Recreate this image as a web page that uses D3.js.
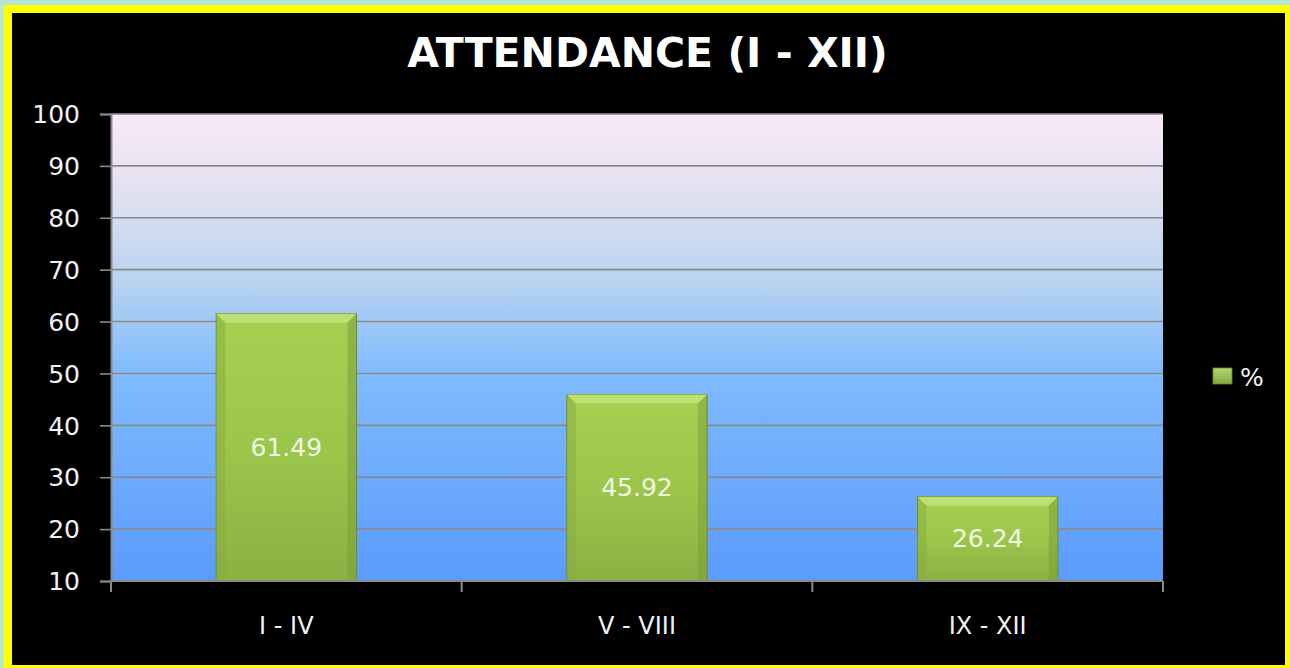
<!DOCTYPE html>
<html>
<head>
<meta charset="utf-8">
<script src="https://cdn.jsdelivr.net/npm/d3@7"></script>
<style>
html,body{margin:0;padding:0;background:#b4e4da;overflow:hidden;}
svg{display:block;}
text{font-family:"DejaVu Sans",Verdana,sans-serif;}
</style>
</head>
<body>
<svg id="chart" width="1290" height="668"></svg>
<script>
const categories = ["I - IV", "V - VIII", "IX - XII"];
const values = [61.49, 45.92, 26.24];
const yTicks = [10, 20, 30, 40, 50, 60, 70, 80, 90, 100];
const seriesName = "%";
const title = "ATTENDANCE (I - XII)";

(function(){
const svg = d3.select("#chart");
const defs = svg.append("defs");

// frame
svg.append("rect").attr("x",0).attr("y",0).attr("width",1290).attr("height",668).attr("fill","#b4e4da");
svg.append("rect").attr("x",3.5).attr("y",5).attr("width",1290-3.5).attr("height",668-5).attr("fill","#ffff00");
svg.append("rect").attr("x",12).attr("y",13).attr("width",1285-12).attr("height",665-13).attr("fill","#000000");

const pL = 111, pR = 1163, pT = 114, pB = 581;

const y = d3.scaleLinear().domain([10, 100]).range([pB, pT]);
const x = d3.scaleBand().domain(categories).range([pL, pR]).paddingInner(0.6).paddingOuter(0.3);

// plot background gradient
const bg = defs.append("linearGradient").attr("id","bg").attr("x1",0).attr("y1",0).attr("x2",0).attr("y2",1);
[[0,"#fbe9f8"],[0.18,"#dfe0f0"],[0.36,"#b8d3ef"],[0.55,"#80bbfd"],[1,"#5b9bfb"]].forEach(s=>
  bg.append("stop").attr("offset",s[0]).attr("stop-color",s[1]));
svg.append("rect").attr("x",pL).attr("y",pT).attr("width",pR-pL).attr("height",pB-pT).attr("fill","url(#bg)");

// gridlines
svg.append("g").selectAll("line").data(yTicks).join("line")
  .attr("x1",pL).attr("x2",pR)
  .attr("y1",d=>y(d)).attr("y2",d=>y(d))
  .attr("stroke","#8a8a8a").attr("stroke-width",1.6);

// bar gradients
const bg2 = defs.append("linearGradient").attr("id","barg").attr("x1",0).attr("y1",0).attr("x2",0).attr("y2",1);
[[0,"#a6d052"],[0.5,"#9cc64b"],[1,"#8cb043"]].forEach(s=>
  bg2.append("stop").attr("offset",s[0]).attr("stop-color",s[1]));

const bars = svg.append("g").selectAll("g").data(values).join("g");
bars.append("rect")
  .attr("x",(d,i)=>x(categories[i])).attr("y",d=>y(d))
  .attr("width",x.bandwidth()).attr("height",d=>pB-y(d))
  .attr("fill","url(#barg)").attr("stroke","#6a8a2c").attr("stroke-width",1);
// bevels
const bev = 9;
bars.append("path")
  .attr("d",(d,i)=>{const x0=x(categories[i]),x1=x0+x.bandwidth(),y0=y(d);
    return `M${x0},${y0}L${x1},${y0}L${x1-bev},${y0+bev}L${x0+bev},${y0+bev}Z`;})
  .attr("fill","#c4e27a").attr("opacity",0.8);
bars.append("path")
  .attr("d",(d,i)=>{const x0=x(categories[i]),y0=y(d);
    return `M${x0},${y0}L${x0+bev},${y0+bev}L${x0+bev},${pB}L${x0},${pB}Z`;})
  .attr("fill","#88ab3e").attr("opacity",0.5);
bars.append("path")
  .attr("d",(d,i)=>{const x1=x(categories[i])+x.bandwidth(),y0=y(d);
    return `M${x1},${y0}L${x1-bev},${y0+bev}L${x1-bev},${pB}L${x1},${pB}Z`;})
  .attr("fill","#7c9c36").attr("opacity",0.5);

// value labels
bars.append("text")
  .attr("x",(d,i)=>x(categories[i])+x.bandwidth()/2)
  .attr("y",d=>(y(d)+pB)/2)
  .attr("text-anchor","middle").attr("dominant-baseline","central")
  .attr("font-size",25).attr("fill","#f2f6e4")
  .text(d=>d.toFixed(2));

// y axis
const yAxis = svg.append("g").attr("transform",`translate(${pL},0)`)
  .call(d3.axisLeft(y).tickValues(yTicks).tickSize(11).tickPadding(20).tickFormat(d3.format("d")));
yAxis.select(".domain").attr("stroke","#8a8a8a").attr("stroke-width",2);
yAxis.selectAll(".tick line").attr("stroke","#8a8a8a").attr("stroke-width",1.6);
yAxis.selectAll(".tick text").attr("fill","#f0f2f6").attr("font-size",25)
  .attr("font-family","DejaVu Sans").attr("dy","0.35em");

// x axis
svg.append("line").attr("x1",pL).attr("x2",pR).attr("y1",pB).attr("y2",pB)
  .attr("stroke","#8a8a8a").attr("stroke-width",2);
const bounds = d3.range(categories.length+1).map(i=>pL + i*(pR-pL)/categories.length);
svg.append("g").selectAll("line").data(bounds).join("line")
  .attr("x1",d=>d).attr("x2",d=>d).attr("y1",pB).attr("y2",pB+11)
  .attr("stroke","#8a8a8a").attr("stroke-width",2);
const xAxis = svg.append("g").attr("transform",`translate(0,${pB})`)
  .call(d3.axisBottom(x).tickSize(0).tickPadding(0));
xAxis.select(".domain").remove();
xAxis.selectAll(".tick text").attr("fill","#f0f2f6").attr("font-size",24)
  .attr("font-family","DejaVu Sans").attr("dy",null).attr("y",53);

// title
svg.append("text").attr("x",647.5).attr("y",67).attr("text-anchor","middle")
  .attr("font-size",41).attr("font-weight","bold").attr("fill","#ffffff").text(title);

// legend
const lg = defs.append("linearGradient").attr("id","lgg").attr("x1",0).attr("y1",0).attr("x2",0).attr("y2",1);
[[0,"#b2d870"],[1,"#86a83e"]].forEach(s=>lg.append("stop").attr("offset",s[0]).attr("stop-color",s[1]));
svg.append("rect").attr("x",1213).attr("y",368).attr("width",19).attr("height",16)
  .attr("fill","url(#lgg)").attr("stroke","#6a8a2c").attr("stroke-width",0.8);
svg.append("text").attr("x",1240).attr("y",386).attr("font-size",25).attr("fill","#f0f2f6").text(seriesName);
})();
</script>
</body>
</html>
